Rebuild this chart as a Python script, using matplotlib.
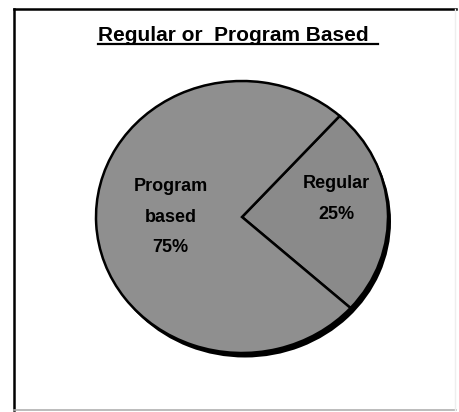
import matplotlib.pyplot as plt
from matplotlib.lines import Line2D

# data
categories = ["Regular", "Program\nbased"]
shares = [25, 75]
slice_colors = ["#8a8a8a", "#8f8f8f"]
title = "Regular or  Program Based"

W, H = 459, 412
fig = plt.figure(figsize=(W / 100, H / 100), dpi=100)
fig.patch.set_facecolor("white")

# pie centre / radii in pixels (from top-left)
cx, cy = 242, 217
rx, ry = 146, 136
ax = fig.add_axes([0, 0, 1, 1])

# shadow: a black disc slightly offset down-right
ax.pie([1], colors=["black"], radius=1.0, center=(3.0 / rx, -4.5 / ry),
       wedgeprops={"linewidth": 0})
wedges, _ = ax.pie(shares, colors=slice_colors, startangle=-42,
                   wedgeprops={"edgecolor": "black", "linewidth": 1.8})
ax.set_aspect("auto")
ax.set_xlim(-1.05, 1.05)
ax.set_ylim(-1.07, 1.05)
ax.set_position([(cx - rx * 1.05) / W, (H - cy - ry * 1.07) / H,
                 2.10 * rx / W, 2.12 * ry / H])
ax.axis("off")

font = ["Liberation Sans", "DejaVu Sans"]
ax.text(0.645, 0.13, f"{categories[0]}\n{shares[0]}%", ha="center", va="center",
        fontsize=13, fontweight="bold", family=font, linespacing=2.05)
ax.text(-0.49, 0.0, f"{categories[1]}\n{shares[1]}%", ha="center", va="center",
        fontsize=13, fontweight="bold", family=font, linespacing=2.05)

# title with underline
fig.text(98 / W, 1 - 41 / H, title, ha="left", va="baseline",
         fontsize=15, fontweight="bold", family=font)
fig.add_artist(Line2D([98 / W, 378 / W], [1 - 44 / H, 1 - 44 / H],
                      color="black", linewidth=1.6))

# frame around the chart
fig.add_artist(Line2D([13.5 / W, 13.5 / W], [1 - 9 / H, 1 - 410 / H],
                      color="black", linewidth=1.8))
fig.add_artist(Line2D([13.5 / W, 456 / W], [1 - 9 / H, 1 - 9 / H],
                      color="black", linewidth=1.8))
fig.add_artist(Line2D([13.5 / W, 456 / W], [1 - 410 / H, 1 - 410 / H],
                      color="#b0b0b0", linewidth=1.2))
fig.add_artist(Line2D([455 / W, 455 / W], [1 - 9 / H, 1 - 410 / H],
                      color="#eeeeee", linewidth=1.0))

fig.savefig("out.png", dpi=100)
